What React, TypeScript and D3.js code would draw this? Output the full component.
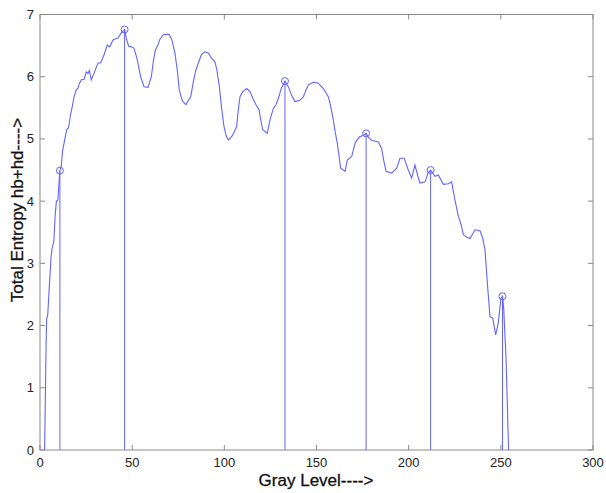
import React from "react";
import * as d3 from "d3";

const grayLevels: number[] = [
  2.5, 2.7, 3.3, 3.6, 4.2, 5, 6, 6.6, 7.5, 8.3, 8.9, 9.7, 10.3, 10.8, 11.5, 12.2, 13.5, 14.5, 15.5, 16.5,
  17.5, 18.5, 19.7, 20.6, 21.5, 22.4, 23.9, 25.1, 26, 26.8, 27.8, 29.3, 30.5, 31.5, 32.9, 34, 34.7, 36.5, 37.8, 39.6,
  41, 42.3, 44, 45.9, 46.8, 48.1, 49.5, 51, 52.8, 54.6, 56.4, 58.6, 60.4, 61.5, 62.6, 64, 65, 66.7, 68.5, 70,
  71.5, 73.2, 74.5, 75.5, 76.5, 77.5, 79.2, 80.5, 81.8, 83.2, 84.5, 85.9, 87.5, 89.5, 91.3, 93, 94.9, 96, 97.3, 98.5,
  99.8, 101, 102.2, 103.5, 104.5, 106.7, 107.5, 108.5, 110, 112.1, 113.9, 115.5, 117.2, 118.8, 119.8, 120.8, 123.3, 124.8, 126.6, 128,
  129.3, 131, 132.9, 134.7, 136.5, 138.3, 141, 142.9, 144.2, 145.6, 148.3, 150.8, 153.7, 156.4, 157.5, 159.1, 160.2, 161.3, 163.1, 165.5,
  166.7, 169.1, 170.9, 172, 173.2, 175.4, 176.9, 178.3, 179.9, 183.5, 185.3, 186.5, 187.7, 190.8, 193.5, 195.3, 197.6, 199.8, 201.6, 203.4,
  205, 206.1, 208.9, 210.5, 211.9, 214.3, 216.1, 218.8, 221.5, 223.3, 225.1, 227, 228.5, 229.7, 231.5, 233.3, 236, 238.8, 240.2, 241.4,
  242.7, 244.1, 245.6, 247.2, 248.6, 250.1, 250.9, 251.5, 252.8, 254.2,
];

const totalEntropy: number[] = [
  0, 0.4, 1.7, 2.1, 2.17, 2.6, 3.1, 3.25, 3.35, 3.8, 4.0, 4.02, 4.3, 4.49, 4.55, 4.8, 5.0, 5.15, 5.18, 5.38,
  5.52, 5.68, 5.79, 5.82, 5.9, 5.95, 5.96, 6.08, 6.05, 6.1, 5.95, 6.05, 6.15, 6.22, 6.22, 6.3, 6.35, 6.51, 6.48, 6.59,
  6.61, 6.62, 6.7, 6.76, 6.62, 6.49, 6.48, 6.46, 6.27, 6.0, 5.84, 5.83, 6.0, 6.25, 6.43, 6.51, 6.6, 6.67, 6.68, 6.68,
  6.6, 6.38, 6.1, 5.8, 5.68, 5.6, 5.55, 5.62, 5.68, 5.92, 6.1, 6.22, 6.35, 6.4, 6.38, 6.3, 6.24, 6.1, 5.84, 5.5,
  5.2, 5.05, 4.98, 5.02, 5.06, 5.2, 5.45, 5.68, 5.76, 5.81, 5.76, 5.65, 5.55, 5.47, 5.3, 5.15, 5.09, 5.31, 5.49, 5.55,
  5.65, 5.82, 5.93, 5.84, 5.7, 5.6, 5.62, 5.68, 5.78, 5.87, 5.91, 5.9, 5.81, 5.68, 5.55, 5.31, 5.1, 4.93, 4.53, 4.48,
  4.66, 4.72, 4.93, 4.98, 5.03, 5.06, 5.09, 5.02, 4.98, 4.95, 4.85, 4.65, 4.48, 4.45, 4.53, 4.69, 4.69, 4.5, 4.37, 4.58,
  4.4, 4.29, 4.31, 4.45, 4.5, 4.4, 4.42, 4.27, 4.28, 4.31, 4.02, 3.75, 3.62, 3.46, 3.42, 3.4, 3.54, 3.52, 3.4, 3.22,
  2.68, 2.14, 2.12, 1.85, 2.04, 2.44, 2.47, 2.3, 1.5, 0,
];

const peakLevels: number[] = [10.8, 45.9, 132.9, 176.9, 211.9, 250.9];
const peakValues: number[] = [4.49, 6.76, 5.93, 5.09, 4.5, 2.47];

const xTicks: number[] = [0, 50, 100, 150, 200, 250, 300];
const yTicks: number[] = [0, 1, 2, 3, 4, 5, 6, 7];

const W = 606;
const H = 493;
const left = 40;
const right = 593;
const top = 14.5;
const bottom = 450;

export default function App() {
  const x = d3.scaleLinear().domain([0, 300]).range([left, right]);
  const y = d3.scaleLinear().domain([0, 7]).range([bottom, top]);
  const pts: [number, number][] = grayLevels.map((g, i) => [g, totalEntropy[i]]);
  const line = d3
    .line<[number, number]>()
    .x((d) => x(d[0]))
    .y((d) => y(d[1]));
  const axisColor = "#8a8a8a";
  const blue = "#6464ff";
  const font = "Liberation Sans, Arial, sans-serif";
  return (
    <svg
      width={W}
      height={H}
      style={{ position: "absolute", left: 0, top: 0, background: "#fff" }}
      fontFamily={font}
    >
      <rect x={0} y={0} width={W} height={H} fill="#fff" />
      {peakLevels.map((p, i) => (
        <line
          key={"s" + i}
          x1={x(p)}
          x2={x(p)}
          y1={y(0)}
          y2={y(peakValues[i])}
          stroke={blue}
          strokeWidth={1}
        />
      ))}
      <path d={line(pts) || ""} fill="none" stroke={blue} strokeWidth={1.1} />
      {peakLevels.map((p, i) => (
        <circle
          key={"c" + i}
          cx={x(p)}
          cy={y(peakValues[i])}
          r={3.5}
          fill="none"
          stroke={blue}
          strokeWidth={1}
        />
      ))}
      <rect
        x={left}
        y={top}
        width={right - left}
        height={bottom - top}
        fill="none"
        stroke={axisColor}
        strokeWidth={1}
      />
      {xTicks.map((t) => (
        <g key={"xt" + t}>
          <line x1={x(t)} x2={x(t)} y1={bottom} y2={bottom - 5} stroke={axisColor} />
          <line x1={x(t)} x2={x(t)} y1={top} y2={top + 5} stroke={axisColor} />
          <text
            x={x(t)}
            y={bottom + 17}
            textAnchor="middle"
            fontSize={13}
            fill="#222"
          >
            {t}
          </text>
        </g>
      ))}
      {yTicks.map((t) => (
        <g key={"yt" + t}>
          <line x1={left} x2={left + 5} y1={y(t)} y2={y(t)} stroke={axisColor} />
          <line x1={right} x2={right - 5} y1={y(t)} y2={y(t)} stroke={axisColor} />
          <text
            x={left - 6}
            y={y(t) + 4.5}
            textAnchor="end"
            fontSize={13}
            fill="#222"
          >
            {t}
          </text>
        </g>
      ))}
      <text
        x={316}
        y={486}
        textAnchor="middle"
        fontSize={17}
        fill="#111"
        stroke="#111"
        strokeWidth={0.3}
      >
        Gray Level----&gt;
      </text>
      <text
        transform={`translate(23, 210) rotate(-90)`}
        textAnchor="middle"
        fontSize={17}
        fill="#111"
        stroke="#111"
        strokeWidth={0.3}
      >
        Total Entropy hb+hd----&gt;
      </text>
    </svg>
  );
}
